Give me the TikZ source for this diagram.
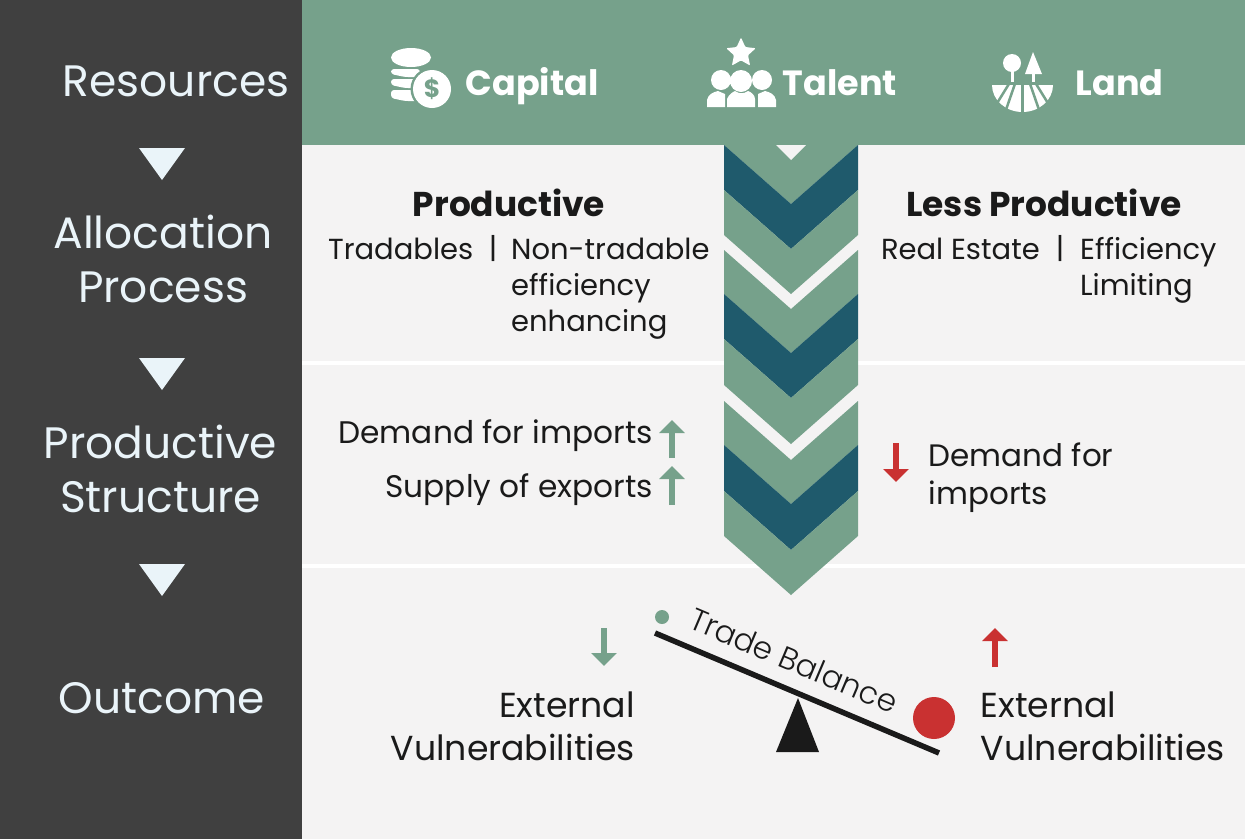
\documentclass[tikz,border=0pt]{standalone}
\usepackage{fontspec}
\setmainfont{Poppins}
\newfontfamily\poplight{Poppins Light}
\usepackage{xcolor}
\usetikzlibrary{shapes.geometric,arrows.meta,positioning}
\definecolor{panelgris}{HTML}{404040}
\definecolor{sage}{HTML}{76A18B}
\definecolor{petrol}{HTML}{1F5A6C}
\definecolor{papel}{HTML}{F4F3F3}
\definecolor{hielo}{HTML}{EAF4F9}
\definecolor{rojo}{HTML}{C93131}
\definecolor{tinta}{HTML}{1A1A1A}
\tikzset{
  rowlabel/.style={text=hielo,align=center,inner sep=0pt,font=\fontsize{44}{54}\selectfont},
  rowtri/.style={fill=hielo},
  colhead/.style={text=white,inner sep=0pt,anchor=base west,font=\fontsize{35}{40}\bfseries\selectfont},
  subhead/.style={text=tinta,inner sep=0pt,font=\fontsize{34.4}{40}\bfseries\selectfont},
  body/.style={text=tinta,inner sep=0pt,align=left,font=\fontsize{29}{36}\selectfont},
  bodymid/.style={body,font=\fontsize{31.2}{38}\selectfont},
  bodybig/.style={text=tinta,inner sep=0pt,font=\fontsize{34.7}{43}\selectfont},
  flechav/.style={sage,line width=6.5pt,-{Triangle[length=13pt,width=25pt]}},
  flechar/.style={rojo,line width=6.5pt,-{Triangle[length=13pt,width=25pt]}},
  icono/.style={fill=white},
}
\newcommand{\chevron}[3]{\fill[#3] (724,#1) -- (791,#1+59) -- (858,#1) -- (858,#2) -- (791,#2+59) -- (724,#2) -- cycle;}
\begin{document}
\begin{tikzpicture}[x=1pt,y=-1pt]
  \useasboundingbox (0,0) rectangle (1245,839);
  % bands
  \fill[papel] (302,145) rectangle (1245,839);
  \fill[white] (302,361) rectangle (1245,365);
  \fill[white] (302,564) rectangle (1245,568);
  \fill[sage] (302,0) rectangle (1245,145);
  \fill[panelgris] (0,0) rectangle (302,839);
  % left column
  \node[rowlabel,anchor=west] (resources) at (62.5,81) {Resources};
  \node[rowlabel] (allocation) at (163,259) {Allocation\\Process};
  \node[rowlabel] (structure) at (160.5,469) {Productive\\Structure};
  \node[rowlabel] (outcome) at (162,698) {Outcome};
  \foreach \y in {148,358,564}
    \fill[rowtri] (139,\y) -- (185,\y) -- (162,\y+32) -- cycle;
  % chevrons
  \fill[sage] (724,145) -- (858,145) -- (791,204) -- cycle;
  \fill[papel] (776,145) -- (806,145) -- (791,160) -- cycle;
  \chevron{145}{190}{petrol}
  \chevron{190}{235}{sage}
  \chevron{250}{294}{sage}
  \chevron{294}{339}{petrol}
  \chevron{339}{385}{sage}
  \chevron{401}{445}{sage}
  \chevron{445}{491}{petrol}
  \chevron{491}{536}{sage}
  % capital icon
  \fill[icono] (411,57.5) ellipse (20 and 9.5);
  \foreach \a/\b in {69/77,79/88,90/101}
    \fill[icono,rounded corners=3pt] (391,\a) -- (420,\a) -- (420,\b) -- (405,\b) -- (391,\b-3) -- cycle;
  \fill[sage] (432,89) circle (21.5);
  \fill[icono] (432,89) circle (19);
  \node[text=sage,inner sep=0pt,font=\fontsize{25}{25}\bfseries\selectfont] (dolar) at (432,89) {\$};
  \node[colhead] (capital) at (465.5,95) {Capital};
  % talent icon
  \node[icono,star,star points=5,star point ratio=2.1,inner sep=0pt,minimum size=31pt,rounded corners=1pt] (estrella) at (741,53) {};
  \fill[icono] (721,80) circle (10) (741,81) circle (11) (762,80) circle (10);
  \fill[icono] (707,107) -- (707,100) .. controls (708,94) and (714,92) .. (718,91) -- (725,94) -- (725,107) -- cycle;
  \fill[icono] (727,107) -- (727,99) .. controls (729,94) and (733,92) .. (735,91) .. controls (739,94) and (744,94) .. (748,91) .. controls (751,92) and (755,95) .. (755,99) -- (755,107) -- cycle;
  \fill[icono] (776,107) -- (776,100) .. controls (775,94) and (769,92) .. (765,91) -- (758,94) -- (758,107) -- cycle;
  \node[colhead] (talent) at (782.5,95) {Talent};
  % land icon
  \fill[icono] (992,85) -- (1053,85) arc[start angle=0,end angle=180,x radius=30.5,y radius=27] -- cycle;
  \foreach \xx in {-34,-19,0,19,34}
    \draw[sage,line width=2.5pt] (1022.5,62) -- ++(\xx,55);
  \fill[sage] (988,76) rectangle (1058,85);
  \fill[icono] (1012,63) circle (9);
  \fill[icono] (1010.5,70) rectangle (1013.5,82);
  \fill[icono] (1033,52) -- (1042,74) -- (1025,74) -- cycle;
  \fill[icono] (1031.5,72) rectangle (1034.5,82);
  \node[colhead] (land) at (1075.5,95) {Land};
  % productive
  \node[subhead] (productive) at (509,202.5) {Productive};
  \node[body,anchor=east] (tradables) at (473.5,249) {Tradables};
  \node[body] (sep1) at (493,249) {|};
  \node[body,anchor=north west] (nontradable) at (511,237.5) {Non-tradable\\efficiency\\enhancing};
  \node[subhead] (lessproductive) at (1044,202.5) {Less Productive};
  \node[body,anchor=east] (realestate) at (1040,249) {Real Estate};
  \node[body] (sep2) at (1060,249) {|};
  \node[body,anchor=north west] (limiting) at (1080,237.5) {Efficiency\\Limiting};
  % structure
  \node[bodymid,anchor=east] (demand) at (653,435.5) {Demand for imports};
  \node[bodymid,anchor=east] (supply) at (653,489.5) {Supply of exports};
  \coordinate (a1) at (672,458); \coordinate (a2) at (672,420);
  \coordinate (b1) at (672,505); \coordinate (b2) at (672,466);
  \draw[flechav] (a1) -- (a2);
  \draw[flechav] (b1) -- (b2);
  \coordinate (c1) at (896,443); \coordinate (c2) at (896,482);
  \draw[flechar] (c1) -- (c2);
  \node[body,anchor=west,font=\fontsize{31}{38}\selectfont] (demandless) at (928.5,477.5) {Demand for\\imports};
  % outcome
  \coordinate (d1) at (604,628); \coordinate (d2) at (604,666);
  \draw[flechav] (d1) -- (d2);
  \coordinate (e1) at (995,667); \coordinate (e2) at (995,628);
  \draw[flechar] (e1) -- (e2);
  \node[bodybig,anchor=east,align=right] (extleft) at (635,726.5) {External\\Vulnerabilities};
  \node[bodybig,anchor=west,align=left] (extright) at (980.5,726.5) {External\\Vulnerabilities};
  % seesaw
  \coordinate (beamL) at (655,633); \coordinate (beamR) at (939,753);
  \draw[tinta,line width=5.5pt] (beamL) -- (beamR);
  \fill[tinta] (798,698) -- (819,752) -- (776,752) -- cycle;
  \fill[sage] (662,617) circle (7);
  \fill[rojo] (934,718) circle (21);
  \node[text=tinta,inner sep=0pt,rotate=-23,font=\poplight\fontsize{31}{31}\selectfont] (balance) at (794,660.5) {Trade Balance};
\end{tikzpicture}
\end{document}
